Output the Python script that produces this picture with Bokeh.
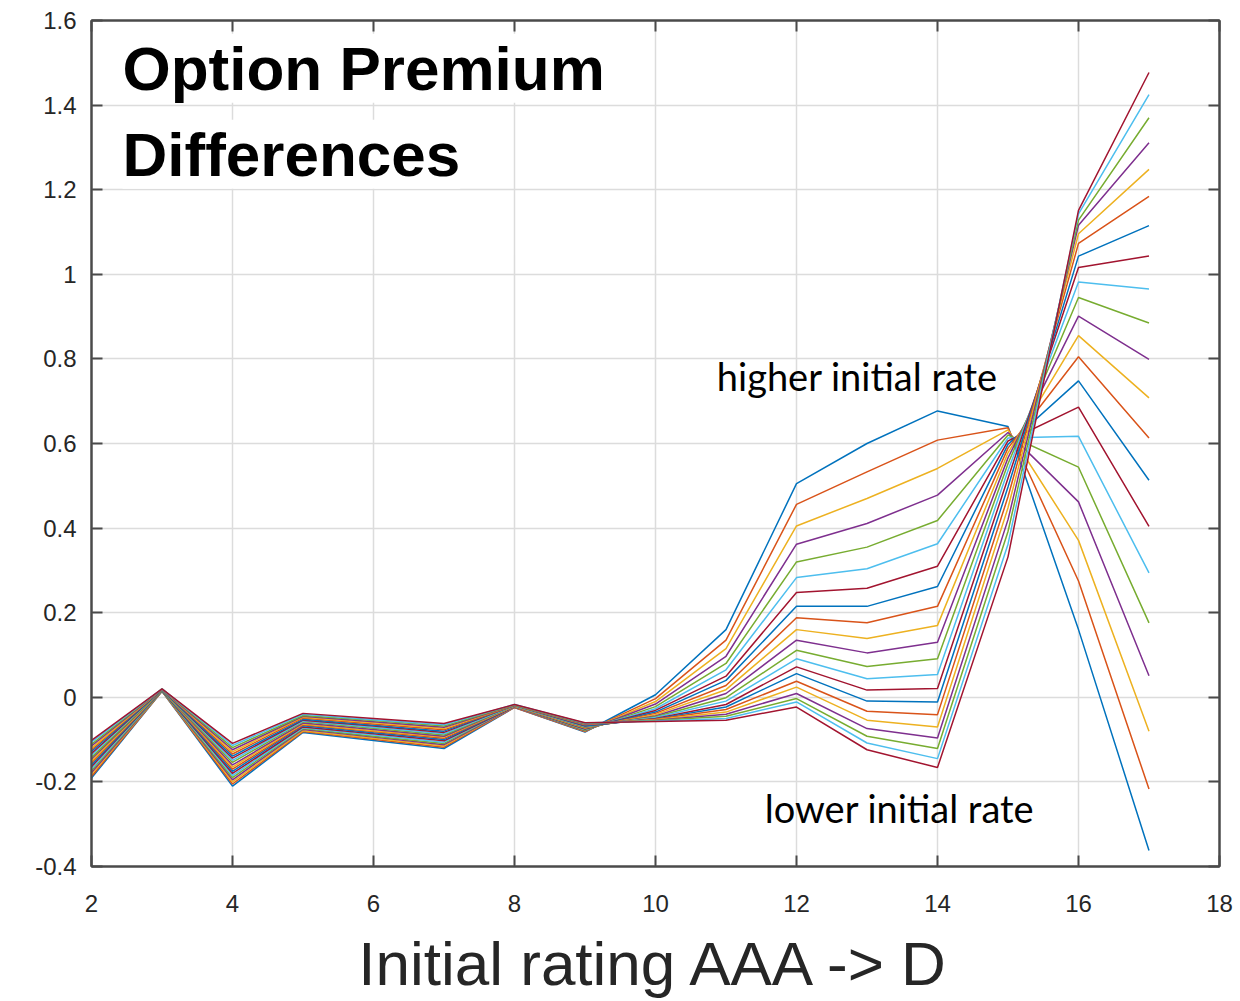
from bokeh.plotting import figure
from bokeh.models import Range1d, LinearAxis, FixedTicker, CustomJSTickFormatter, Label
from bokeh.embed import file_html
from bokeh.resources import INLINE

# Initial rating index (x) and the 21 curves' values at each rating (curve 1 .. curve 21)
rating = [2, 3, 4, 5, 6, 7, 8, 9, 10, 11, 12, 13, 14, 15, 16, 17]

at_2 = [-0.191, -0.187, -0.182, -0.178, -0.173, -0.169, -0.164, -0.160, -0.155, -0.151, -0.146, -0.142, -0.137, -0.133, -0.128, -0.124, -0.120, -0.115, -0.111, -0.106, -0.102]
at_3 = [0.014, 0.014, 0.015, 0.015, 0.015, 0.016, 0.016, 0.016, 0.017, 0.017, 0.017, 0.017, 0.018, 0.018, 0.018, 0.019, 0.019, 0.019, 0.020, 0.020, 0.020]
at_4 = [-0.210, -0.205, -0.200, -0.195, -0.190, -0.185, -0.180, -0.175, -0.170, -0.165, -0.160, -0.154, -0.149, -0.144, -0.139, -0.134, -0.129, -0.124, -0.119, -0.114, -0.109]
at_5 = [-0.083, -0.081, -0.079, -0.076, -0.074, -0.072, -0.070, -0.067, -0.065, -0.063, -0.061, -0.058, -0.056, -0.054, -0.052, -0.049, -0.047, -0.045, -0.043, -0.040, -0.038]
at_6 = [-0.102, -0.099, -0.097, -0.094, -0.092, -0.089, -0.086, -0.084, -0.081, -0.079, -0.076, -0.073, -0.071, -0.068, -0.066, -0.063, -0.060, -0.058, -0.055, -0.053, -0.050]
at_7 = [-0.121, -0.118, -0.115, -0.112, -0.109, -0.106, -0.103, -0.100, -0.097, -0.094, -0.092, -0.089, -0.086, -0.083, -0.080, -0.077, -0.074, -0.071, -0.068, -0.065, -0.062]
at_8 = [-0.024, -0.024, -0.023, -0.023, -0.022, -0.022, -0.022, -0.021, -0.021, -0.021, -0.020, -0.020, -0.020, -0.019, -0.019, -0.019, -0.018, -0.018, -0.018, -0.017, -0.017]
at_9 = [-0.082, -0.081, -0.080, -0.079, -0.078, -0.076, -0.075, -0.074, -0.073, -0.072, -0.071, -0.070, -0.069, -0.068, -0.067, -0.065, -0.064, -0.063, -0.062, -0.061, -0.060]
at_10 = [0.006, -0.003, -0.010, -0.016, -0.022, -0.027, -0.031, -0.035, -0.038, -0.041, -0.044, -0.046, -0.048, -0.050, -0.051, -0.052, -0.053, -0.054, -0.055, -0.056, -0.057]
at_11 = [0.160, 0.135, 0.115, 0.097, 0.080, 0.065, 0.050, 0.040, 0.028, 0.018, 0.009, -0.001, -0.009, -0.017, -0.023, -0.029, -0.035, -0.040, -0.045, -0.050, -0.054]
at_12 = [0.505, 0.456, 0.405, 0.362, 0.320, 0.283, 0.248, 0.215, 0.188, 0.160, 0.135, 0.111, 0.091, 0.072, 0.056, 0.038, 0.024, 0.009, -0.003, -0.011, -0.023]
at_13 = [0.600, 0.533, 0.470, 0.411, 0.355, 0.304, 0.258, 0.215, 0.176, 0.139, 0.105, 0.073, 0.044, 0.017, -0.009, -0.033, -0.054, -0.074, -0.092, -0.108, -0.124]
at_14 = [0.677, 0.608, 0.541, 0.478, 0.418, 0.363, 0.310, 0.262, 0.215, 0.170, 0.130, 0.091, 0.054, 0.021, -0.011, -0.041, -0.070, -0.096, -0.121, -0.145, -0.166]
at_15 = [0.640, 0.637, 0.632, 0.626, 0.620, 0.613, 0.606, 0.598, 0.589, 0.578, 0.566, 0.552, 0.536, 0.518, 0.497, 0.474, 0.448, 0.420, 0.392, 0.362, 0.332]
at_16 = [0.160, 0.275, 0.371, 0.462, 0.544, 0.617, 0.686, 0.748, 0.805, 0.855, 0.901, 0.945, 0.982, 1.016, 1.043, 1.073, 1.096, 1.116, 1.128, 1.143, 1.151]
at_17 = [-0.362, -0.217, -0.080, 0.051, 0.176, 0.294, 0.404, 0.513, 0.613, 0.708, 0.799, 0.885, 0.965, 1.043, 1.115, 1.184, 1.248, 1.311, 1.370, 1.425, 1.477]

columns = [at_2, at_3, at_4, at_5, at_6, at_7, at_8, at_9, at_10, at_11, at_12, at_13, at_14, at_15, at_16, at_17]
curves = [list(vals) for vals in zip(*columns)]

x_ticks = [2, 4, 6, 8, 10, 12, 14, 16, 18]
y_ticks = [-0.4, -0.2, 0, 0.2, 0.4, 0.6, 0.8, 1.0, 1.2, 1.4, 1.6]

palette = ["#0072BD", "#D95319", "#EDB120", "#7E2F8E", "#77AC30", "#4DBEEE", "#A2142F"]

AX = "#4a4a4a"
TXT = "#262626"

p = figure(width=1240, height=1001, output_backend="svg", toolbar_location=None,
           x_range=Range1d(2, 18), y_range=Range1d(-0.4, 1.6),
           min_border_left=91, min_border_right=21, min_border_top=20, min_border_bottom=135,
           x_axis_label="Initial rating AAA -> D")
p.background_fill_color = "white"
p.border_fill_color = "white"
p.outline_line_color = AX
p.outline_line_width = 2

fmt = CustomJSTickFormatter(code="return (Math.round(tick*10)/10).toString();")
blank = CustomJSTickFormatter(code="return '';")

for ax in (p.xaxis[0], p.yaxis[0]):
    ax.major_tick_in = 11
    ax.major_tick_out = 0
    ax.minor_tick_in = 0
    ax.minor_tick_out = 0
    ax.axis_line_color = AX
    ax.axis_line_width = 2
    ax.major_tick_line_color = AX
    ax.major_tick_line_width = 2
    ax.major_label_text_font = "Liberation Sans"
    ax.major_label_text_font_size = "24px"
    ax.major_label_text_color = TXT
    ax.formatter = fmt

p.xaxis[0].ticker = FixedTicker(ticks=x_ticks)
p.yaxis[0].ticker = FixedTicker(ticks=y_ticks)
p.xaxis[0].major_label_standoff = 28
p.yaxis[0].major_label_standoff = 15
p.xaxis[0].axis_label_text_font = "Liberation Sans"
p.xaxis[0].axis_label_text_font_size = "62px"
p.xaxis[0].axis_label_text_font_style = "normal"
p.xaxis[0].axis_label_text_color = TXT
p.xaxis[0].axis_label_standoff = 14

# mirrored ticks on top and right (box on)
top = LinearAxis(ticker=FixedTicker(ticks=x_ticks), formatter=blank, major_label_text_font_size="10px",
                 major_tick_in=11, major_tick_out=0, minor_tick_in=0, minor_tick_out=0,
                 axis_line_color=AX, axis_line_width=2, major_tick_line_color=AX,
                 major_tick_line_width=2, major_label_standoff=0)
right = LinearAxis(ticker=FixedTicker(ticks=y_ticks), formatter=blank, major_label_text_font_size="10px",
                   major_tick_in=11, major_tick_out=0, minor_tick_in=0, minor_tick_out=0,
                   axis_line_color=AX, axis_line_width=2, major_tick_line_color=AX,
                   major_tick_line_width=2, major_label_standoff=0)
p.add_layout(top, "above")
p.add_layout(right, "right")

p.xgrid.ticker = FixedTicker(ticks=x_ticks)
p.ygrid.ticker = FixedTicker(ticks=y_ticks)
for g in (p.xgrid[0], p.ygrid[0]):
    g.grid_line_color = "#dcdcdc"
    g.grid_line_width = 1.5

for i, ys in enumerate(curves):
    p.line(rating, ys, line_color=palette[i % len(palette)], line_width=1.5)

title_kw = dict(text_font="Liberation Sans", text_font_style="bold", text_font_size="62px",
                text_color="black", background_fill_color="white", text_baseline="alphabetic")
p.add_layout(Label(x=2.44, y=1.487, text="Option Premium", **title_kw))
p.add_layout(Label(x=2.44, y=1.284, text="Differences", **title_kw))

note_kw = dict(text_font="Lato", text_font_size="38px", text_color="black", text_baseline="alphabetic")
p.add_layout(Label(x=10.87, y=0.760, text="higher initial rate", **note_kw))
p.add_layout(Label(x=11.55, y=-0.262, text="lower initial rate", **note_kw))

open("out.html", "w").write(file_html(p, INLINE))
